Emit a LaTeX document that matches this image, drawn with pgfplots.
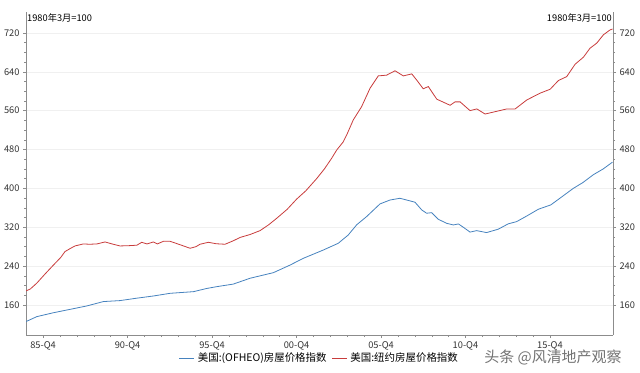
\documentclass[border=0pt]{standalone}
\usepackage{pgfplots}
\pgfplotsset{compat=1.18}
\usetikzlibrary{calc}
\usepackage{fontspec}
\setmainfont{Noto Sans CJK SC}
\definecolor{bl}{RGB}{70,130,190}
\definecolor{rd}{RGB}{200,60,60}
\definecolor{ax}{RGB}{140,140,140}
\begin{document}
\begin{tikzpicture}[x=1bp,y=1bp]
\pgfplotsset{
  base/.style={
    width=587bp, height=323bp, scale only axis,
    xmin=1984.74, xmax=2019.48, ymin=98.2, ymax=763,
    ytick={160,240,...,720},
    minor y tick num=3,
    tick align=outside,
    major tick length=3bp, minor tick length=2bp,
    every tick/.style={ax},
    axis line style={ax},
    tick label style={font=\fontsize{9.3}{10}\selectfont, text=black!80},
    /pgf/number format/assume math mode=true,
  }
}
\begin{axis}[base,
  axis x line*=bottom, axis y line*=left,
  xtick={1985.75,1990.75,1995.75,2000.75,2005.75,2010.75,2015.75},
  xticklabels={85-Q4,90-Q4,95-Q4,00-Q4,05-Q4,10-Q4,15-Q4},
  minor x tick num=4,
  ymajorgrids, major grid style={black!6},
  legend style={at={(0.5,-0.071)}, anchor=center, draw=none, fill=none,
    font=\fontsize{10.5}{12}\selectfont, legend columns=2,
    /tikz/every odd column/.append style={column sep=1bp},
    /tikz/every even column/.append style={column sep=3bp}},
  legend image code/.code={\draw[#1] (0bp,0bp)--(15bp,0bp);},
]
\addplot[bl, line width=0.8bp] coordinates {
(1984.75,126) (1985.38,136) (1986.36,144) (1987.35,151) (1988.34,158)
(1989.32,167) (1990.3,169) (1991.3,174) (1992.28,178.5) (1993.27,184)
(1994.65,187.4) (1995.44,194) (1996.03,197.7) (1997.01,203) (1998.0,215)
(1999.38,226.5) (2000.36,242) (2001.15,256) (2002.33,273) (2003.22,287)
(2003.81,304) (2004.31,325) (2004.9,342) (2005.69,368) (2006.28,376)
(2006.87,379.6) (2007.27,376) (2007.76,371.5) (2008.16,355.6) (2008.45,348.8)
(2008.75,350) (2009.14,336.4) (2009.64,328) (2010.03,324.7) (2010.33,326.8)
(2010.62,320) (2011.02,310) (2011.41,313) (2012.0,309) (2012.69,316)
(2013.28,327) (2013.78,331.6) (2014.37,343) (2015.06,357) (2015.8,366)
(2016.35,380) (2017.13,400)
(2017.7,412) (2018.31,428) (2018.9,440) (2019.45,454)
};
\addlegendentry{美国:(OFHEO)房屋价格指数}
\addplot[rd, line width=0.8bp] coordinates {
(1984.75,189) (1985.0,193) (1985.38,205) (1985.9,225) (1986.36,242)
(1986.8,258) (1987.05,270) (1987.4,277) (1987.64,281.5) (1988.13,285.6)
(1988.5,285) (1988.93,285.6) (1989.42,289.7) (1989.9,285) (1990.3,281.5)
(1990.8,282) (1991.3,283) (1991.59,289) (1991.9,285.6) (1992.28,289.7)
(1992.51,285.6) (1992.87,291) (1993.27,291) (1993.86,284) (1994.45,276.7)
(1994.8,280) (1995.04,285) (1995.53,289) (1996.0,286) (1996.52,285)
(1997.0,292) (1997.41,299) (1998.0,305) (1998.59,313) (1999.1,325)
(1999.58,338.5) (2000.2,357) (2000.76,378) (2001.3,395) (2001.94,420)
(2002.4,440) (2002.83,462) (2003.13,479) (2003.5,495) (2003.72,510)
(2004.11,541) (2004.6,568) (2005.1,606) (2005.59,631.5) (2006.08,633)
(2006.58,642) (2007.07,631.5) (2007.57,635.6) (2007.86,623) (2008.25,605)
(2008.55,609.5) (2009.05,583.6) (2009.84,571) (2010.13,578) (2010.43,578)
(2011.02,560) (2011.42,563.5) (2011.91,553) (2012.4,557) (2013.2,563.5)
(2013.69,563.5) (2014.38,582) (2015.17,596) (2015.76,604) (2016.25,622)
(2016.74,630) (2017.24,655.6) (2017.73,670) (2018.12,688.5) (2018.52,699)
(2018.91,716) (2019.3,726) (2019.45,728)
};
\addlegendentry{美国:纽约房屋价格指数}
\node[anchor=north west, inner sep=1bp, font=\fontsize{9.3}{10}\selectfont] at (rel axis cs:0,1) {1980年3月=100};
\node[anchor=north east, inner sep=1bp, font=\fontsize{9.3}{10}\selectfont] at (rel axis cs:1,1) {1980年3月=100};
\end{axis}
\begin{axis}[base,
  axis y line*=right, axis x line=none,
  ytick={160,240,...,720},
]
\end{axis}
\node[anchor=center, text=black!55, font=\fontsize{15}{16}\selectfont] at ($(current axis.south east)+(-60bp,-22bp)$) {头条 @风清地产观察};
\path ($(current axis.south west)+(-26bp,-38bp)$) rectangle ($(current axis.north east)+(27bp,12bp)$);
\end{tikzpicture}
\end{document}
